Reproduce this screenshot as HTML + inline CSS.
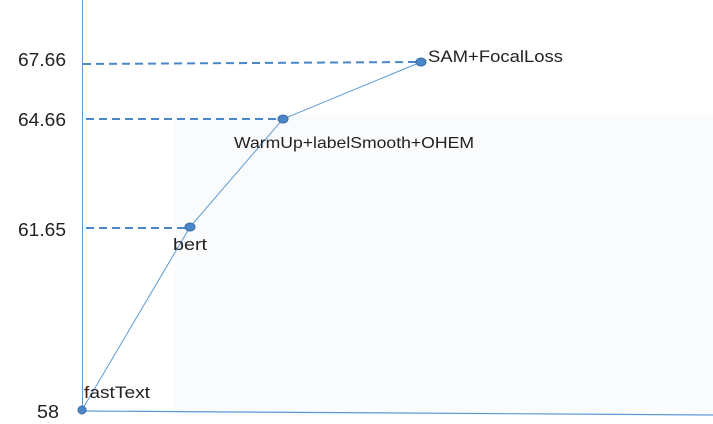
<!DOCTYPE html>
<html><head><style>
html,body{margin:0;padding:0;background:#fff;}
svg{display:block;}
text{font-family:"Liberation Sans",sans-serif;fill:#222;}
</style></head><body>
<svg width="713" height="424" viewBox="0 0 713 424">
<rect x="175" y="115" width="538" height="300" fill="#fafbfd"/>
<line x1="82.5" y1="0" x2="82.5" y2="411" stroke="#5b9bd5" stroke-width="1"/>
<line x1="82" y1="411" x2="713" y2="415" stroke="#5b9bd5" stroke-width="1.2"/>
<g stroke="#4a86c8" stroke-width="2" stroke-dasharray="8,5" fill="none">
<line x1="83" y1="64" x2="418" y2="62"/>
<line x1="86" y1="119" x2="280" y2="119"/>
<line x1="86" y1="228" x2="188" y2="228"/>
</g>
<polyline points="82,410 190,227 283,119 421,62" fill="none" stroke="#5b9bd5" stroke-width="1"/>
<g fill="#4a86c8" stroke="#3a6ea5" stroke-width="1">
<ellipse cx="82" cy="410" rx="4" ry="4"/>
<ellipse cx="190" cy="227" rx="5" ry="4"/>
<ellipse cx="283" cy="119" rx="5" ry="4"/>
<ellipse cx="421" cy="62" rx="5" ry="4"/>
</g>
<g font-size="18">
<text x="18" y="66" textLength="48" lengthAdjust="spacingAndGlyphs">67.66</text>
<text x="18" y="126" textLength="48" lengthAdjust="spacingAndGlyphs">64.66</text>
<text x="18" y="236" textLength="48" lengthAdjust="spacingAndGlyphs">61.65</text>
<text x="37" y="418" textLength="22" lengthAdjust="spacingAndGlyphs">58</text>
</g>
<g font-size="17">
<text x="428" y="62" textLength="135" lengthAdjust="spacingAndGlyphs">SAM+FocalLoss</text>
<text x="234" y="148" font-size="16" textLength="240" lengthAdjust="spacingAndGlyphs">WarmUp+labelSmooth+OHEM</text>
<text x="173" y="250" textLength="34" lengthAdjust="spacingAndGlyphs">bert</text>
<text x="84" y="398" textLength="66" lengthAdjust="spacingAndGlyphs">fastText</text>
</g>
</svg>
</body></html>
